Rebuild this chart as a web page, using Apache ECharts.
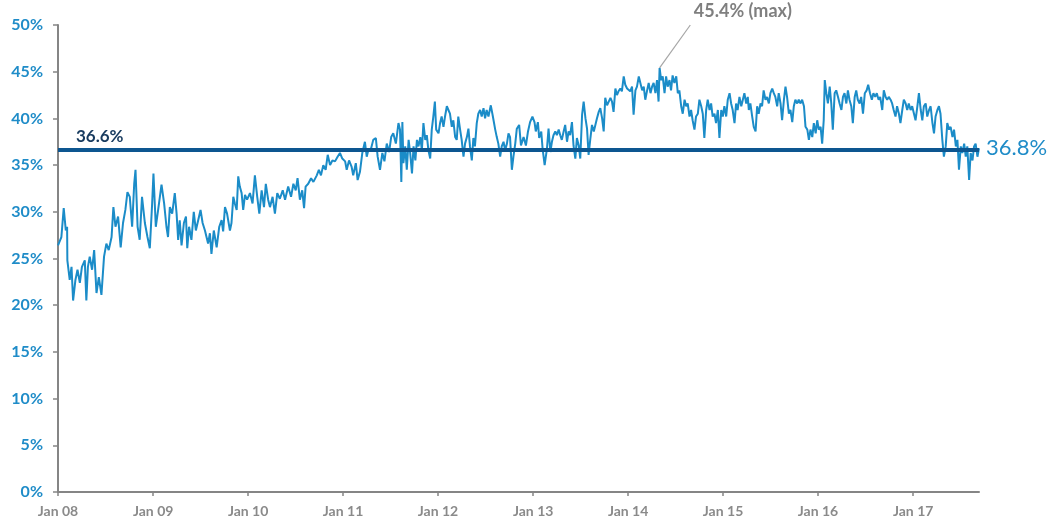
<!DOCTYPE html>
<html>
<head>
<meta charset="utf-8">
<script src="https://cdn.jsdelivr.net/npm/echarts@6/dist/echarts.min.js"></script>
<style>
  html, body { margin: 0; padding: 0; background: #fff; }
  #box { width: 1053px; height: 524px; }
</style>
</head>
<body>
<div id="box"></div>
<script>
// [days since 1 Jan 2008, share %], in stretches
var seg1 = [[0,26.4],[13,27.3],[22,30.4],[30,28.0],[35,28.4],[36,24.8],[45,22.7],[52,24.1],[58,20.5],[67,22.7],[75,23.8],[84,22.4],[92,24.1],[103,24.8],[109,20.5],[115,24.1],[122,25.2],[131,23.8],[139,25.9],[148,21.3],[157,23.0],[167,21.1],[177,25.2],[186,26.6],[195,25.9],[206,27.3],[213,30.5],[221,28.4],[231,29.5],[241,26.2],[250,28.8],[259,30.2],[267,32.1],[276,31.6],[285,28.4],[293,33.0],[298,34.5],[306,28.4],[314,27.0],[323,31.6],[334,28.8],[344,27.3],[353,26.1],[362,30.9],[367,34.1],[376,28.4],[385,30.2],[398,32.9],[408,30.9],[417,28.4],[423,27.3],[430,30.5],[439,29.8]];
var seg2 = [[449,32.0],[456,29.8],[462,27.0],[468,29.1],[475,26.4],[484,28.8],[492,29.5],[497,26.1],[504,28.4],[513,27.0],[522,30.0],[530,28.0],[539,29.1],[548,30.2],[556,28.8],[565,28.0],[571,27.3],[577,26.6],[584,27.7],[590,25.5],[599,28.0],[610,26.2],[620,28.4],[629,29.1],[635,27.9],[642,30.5],[650,29.8],[661,28.0],[667,28.8],[674,31.6],[680,30.9],[687,30.2],[693,33.8],[699,32.7],[706,32.0],[712,30.2],[719,31.8],[727,31.3],[738,32.0],[748,30.9],[757,33.9],[766,31.6],[774,29.8],[783,32.3],[792,30.5],[799,33.0],[808,31.3],[815,30.5],[825,31.6],[834,29.8],[843,32.0],[853,31.4],[864,32.3],[873,31.3]];
var seg3 = [[885,32.7],[896,31.6],[905,33.0],[914,32.3],[921,33.6],[930,31.3],[939,32.3],[946,30.4],[952,32.7],[962,33.0],[973,33.6],[982,33.2],[995,33.9],[1003,34.5],[1011,33.9],[1020,35.0],[1029,34.5],[1037,36.1],[1046,35.0],[1055,35.5],[1065,35.4],[1075,35.9],[1084,36.3],[1093,35.7],[1104,35.4],[1110,34.5],[1119,35.5],[1129,34.8],[1135,33.9],[1145,35.2],[1152,33.4],[1161,34.3],[1170,36.3],[1180,37.5],[1187,35.9],[1193,36.6],[1204,36.8],[1212,37.7],[1222,37.9],[1229,35.9],[1238,34.5],[1247,36.3],[1255,35.4],[1264,37.3],[1273,36.4],[1281,38.0],[1289,38.4],[1299,37.3],[1309,39.5],[1315,38.8]];
var seg4 = [[1320,33.2],[1324,39.6],[1328,35.2],[1335,37.0],[1341,34.5],[1348,37.7],[1354,36.3],[1361,34.1],[1367,37.0],[1374,35.5],[1380,37.7],[1386,37.0],[1393,38.0],[1399,36.6],[1405,39.5],[1412,37.7],[1418,38.2],[1424,36.6],[1431,35.7],[1437,38.8],[1443,40.2],[1449,41.8],[1454,38.8],[1463,38.4],[1469,39.5],[1475,40.2],[1482,39.1],[1488,40.2],[1495,41.3],[1501,40.9],[1507,40.5],[1514,39.1],[1520,39.8],[1527,38.0],[1533,37.7],[1539,40.2],[1546,38.8],[1552,37.7],[1559,35.9],[1565,37.3],[1572,38.0],[1578,38.9],[1584,37.0],[1591,35.5],[1597,37.9],[1603,37.0],[1610,39.5],[1616,40.5],[1623,40.9],[1629,40.2],[1636,41.1],[1642,40.0],[1648,40.9],[1655,40.2],[1664,41.4],[1672,40.2],[1681,38.8],[1687,38.0],[1693,37.3],[1700,35.9],[1706,37.0],[1713,37.5],[1719,36.6],[1726,37.3],[1732,38.4],[1738,38.0],[1745,34.5],[1751,35.9],[1758,37.3],[1764,38.9]];
var seg5 = [[1773,39.3],[1780,37.1],[1790,38.0],[1799,37.1],[1807,38.6],[1815,39.6],[1824,40.2],[1832,39.6],[1837,38.6],[1845,39.6],[1850,37.9],[1858,38.6],[1863,36.8],[1871,35.0],[1880,36.8],[1886,38.9],[1893,36.4],[1899,37.5],[1905,38.2],[1912,38.6],[1918,38.2],[1925,38.8],[1931,38.2],[1937,37.7],[1944,38.6],[1950,39.3],[1957,37.5],[1963,38.6],[1969,38.2],[1976,39.6],[1982,37.1],[1989,35.7],[1995,37.9],[2002,37.1],[2008,35.7],[2015,40.4],[2021,41.8],[2028,40.0],[2034,38.9],[2040,36.1],[2047,37.9],[2053,39.3],[2060,38.6],[2066,39.3],[2072,40.0],[2079,40.7],[2085,41.1],[2092,40.0],[2098,38.6],[2104,42.2],[2111,41.4],[2117,41.6],[2124,42.2],[2130,41.8],[2136,40.7],[2143,43.2],[2149,42.5],[2155,42.9],[2162,43.2],[2168,42.9],[2175,44.5],[2181,43.6],[2188,43.2],[2194,43.4]];
var seg6 = [[2200,42.9],[2207,43.4],[2213,40.4],[2220,43.0],[2226,43.4],[2233,44.5],[2239,43.8],[2246,43.0],[2252,43.4],[2258,42.0],[2265,43.0],[2271,43.8],[2278,42.7],[2284,43.4],[2290,43.8],[2297,42.7],[2303,44.1],[2309,41.8],[2313,45.4],[2319,44.1],[2325,44.5],[2332,42.7],[2338,44.5],[2344,43.4],[2351,44.1],[2357,43.0],[2363,44.6],[2370,43.8],[2377,44.5],[2383,42.7],[2389,43.0],[2396,41.3],[2402,40.5],[2409,42.0],[2415,41.3],[2421,41.6],[2428,40.2],[2434,40.9],[2440,39.8],[2447,38.8],[2453,40.2],[2460,40.5],[2466,42.0],[2473,41.3],[2479,40.5],[2485,37.9],[2492,40.9],[2498,42.0],[2505,40.9],[2511,41.6],[2517,40.2],[2524,40.5],[2530,39.5],[2537,40.9],[2543,37.9],[2550,40.9],[2556,40.2],[2562,41.3],[2569,40.2],[2575,42.0],[2582,42.7],[2588,41.6],[2594,40.9],[2601,39.5],[2607,41.6],[2613,40.9],[2620,42.3],[2627,41.3],[2633,42.0],[2639,42.7],[2646,41.6],[2652,42.3]];
var seg7 = [[2656,40.9],[2662,41.6],[2669,40.2],[2675,39.1],[2682,38.6],[2688,41.3],[2694,40.5],[2701,41.6],[2707,41.3],[2713,43.0],[2720,42.0],[2726,42.3],[2733,41.6],[2739,42.7],[2746,43.2],[2752,42.7],[2758,42.3],[2765,41.3],[2771,42.7],[2778,41.6],[2784,39.8],[2791,42.0],[2797,43.4],[2803,42.3],[2810,40.5],[2816,40.9],[2823,39.6],[2829,41.3],[2835,42.0],[2842,41.6],[2848,42.0],[2855,41.6],[2861,42.0],[2868,41.3],[2874,39.1],[2881,38.8],[2887,37.7],[2893,38.8],[2900,38.0],[2906,39.5],[2913,38.4],[2919,39.8],[2925,38.8],[2932,39.1],[2938,37.3],[2944,39.8],[2948,44.1],[2954,42.7],[2960,41.6],[2967,43.4],[2973,41.6],[2979,38.8],[2986,42.7],[2992,43.0],[2999,42.3],[3005,41.6],[3012,40.9],[3018,42.3],[3024,42.7],[3031,41.6],[3037,43.0],[3043,42.0],[3050,41.3],[3056,39.5],[3063,42.3],[3069,43.0],[3075,42.0],[3082,41.6]];
var seg8 = [[3088,42.3],[3095,40.5],[3102,42.7],[3109,43.0],[3115,43.6],[3122,42.7],[3129,42.0],[3135,42.7],[3142,42.3],[3148,42.7],[3155,42.0],[3161,42.3],[3169,40.9],[3175,43.0],[3182,42.3],[3188,42.0],[3194,42.3],[3201,42.0],[3207,41.6],[3213,40.9],[3220,40.2],[3226,41.3],[3233,40.5],[3239,39.5],[3246,40.9],[3252,42.0],[3259,41.6],[3265,40.9],[3271,41.6],[3278,40.9],[3284,41.3],[3291,40.5],[3297,39.8],[3304,41.3],[3310,42.7],[3317,40.9],[3323,39.8],[3329,41.3],[3336,41.6],[3342,40.2],[3349,40.9],[3355,41.3],[3362,39.5],[3368,38.4],[3374,40.2],[3381,40.9],[3387,41.3],[3393,40.5],[3400,37.7],[3406,35.9],[3413,37.0],[3419,39.5],[3426,38.8],[3432,39.1],[3439,38.0],[3445,38.8],[3452,37.0],[3458,37.7],[3464,34.5],[3471,37.0],[3477,36.3],[3484,37.3],[3490,35.9],[3496,37.0],[3503,33.4],[3509,36.3],[3516,35.5],[3522,37.0],[3528,37.3],[3535,35.9],[3541,36.8]];

var average = 36.6;           // horizontal reference
var maxNote = [2313, 45.4];   // peak
var noteEnd = [2431, 50];     // end of the leader line
var yTicks = [0, 5, 10, 15, 20, 25, 30, 35, 40, 45, 50];

var DAY = 86400000;
var start = Date.UTC(2008, 0, 1);
var toPoint = function (p) { return [start + p[0] * DAY, p[1]]; };
var data = [].concat(seg1, seg2, seg3, seg4, seg5, seg6, seg7, seg8).map(toPoint);
var lastDay = seg8[seg8.length - 1][0];

var mychart = echarts.init(document.getElementById('box'));
var option = {
    useUTC: true,
    animation: false,
    backgroundColor: '#ffffff',
    grid: {left: 58, right: 74, top: 25, bottom: 32, containLabel: false},
    xAxis: {
        type: 'time',
        min: start,
        max: start + lastDay * DAY,
        minInterval: 365 * DAY,
        maxInterval: 366 * DAY,
        axisLine: {lineStyle: {color: '#858585', width: 2}},
        axisTick: {show: true, length: 4, lineStyle: {color: '#858585', width: 1.5}},
        splitLine: {show: false},
        axisLabel: {
            showMinLabel: true,
            showMaxLabel: false,
            color: '#8a8a8a',
            fontFamily: 'Lato',
            fontWeight: 'bold',
            fontSize: 14,
            margin: 12,
            formatter: function (v) {
                return 'Jan ' + String(new Date(v).getUTCFullYear()).slice(2);
            }
        }
    },
    yAxis: {
        type: 'value',
        min: yTicks[0],
        max: yTicks[yTicks.length - 1],
        interval: yTicks[1] - yTicks[0],
        axisLine: {show: true, lineStyle: {color: '#858585', width: 2}},
        axisTick: {show: true, length: 5, lineStyle: {color: '#858585', width: 1.5}},
        splitLine: {show: false},
        axisLabel: {
            color: '#1f8cc8',
            fontFamily: 'Lato',
            fontWeight: 'bold',
            fontSize: 16,
            margin: 15,
            formatter: '{value}%'
        }
    },
    series: [{
        type: 'line',
        data: data,
        showSymbol: false,
        symbol: 'none',
        lineStyle: {color: '#1b8cc8', width: 2},
        endLabel: {
            show: true,
            distance: 7,
            color: '#1f8cc8',
            fontFamily: 'Lato',
            fontSize: 22,
            formatter: function (p) { return p.value[1].toFixed(1) + '%'; }
        },
        markLine: {
            silent: true,
            symbol: ['none', 'none'],
            data: [
                {
                    yAxis: average,
                    lineStyle: {color: '#0d5690', width: 4, type: 'solid'},
                    label: {
                        show: true,
                        position: 'insideStartTop',
                        distance: [18, 5],
                        formatter: average.toFixed(1) + '%',
                        color: '#173a5e',
                        fontFamily: 'Lato',
                        fontWeight: 'bold',
                        fontSize: 17
                    }
                },
                [
                    {coord: toPoint(maxNote)},
                    {
                        coord: toPoint(noteEnd),
                        lineStyle: {color: '#a6a6a6', width: 1.2, type: 'solid'},
                        label: {
                            show: true,
                            position: 'end',
                            align: 'left',
                            verticalAlign: 'bottom',
                            distance: 6,
                            formatter: maxNote[1].toFixed(1) + '% (max)',
                            color: '#7f7f7f',
                            fontFamily: 'Lato',
                            fontWeight: 'bold',
                            fontSize: 18
                        }
                    }
                ]
            ]
        }
    }]
};
mychart.setOption(option);
</script>
</body>
</html>
